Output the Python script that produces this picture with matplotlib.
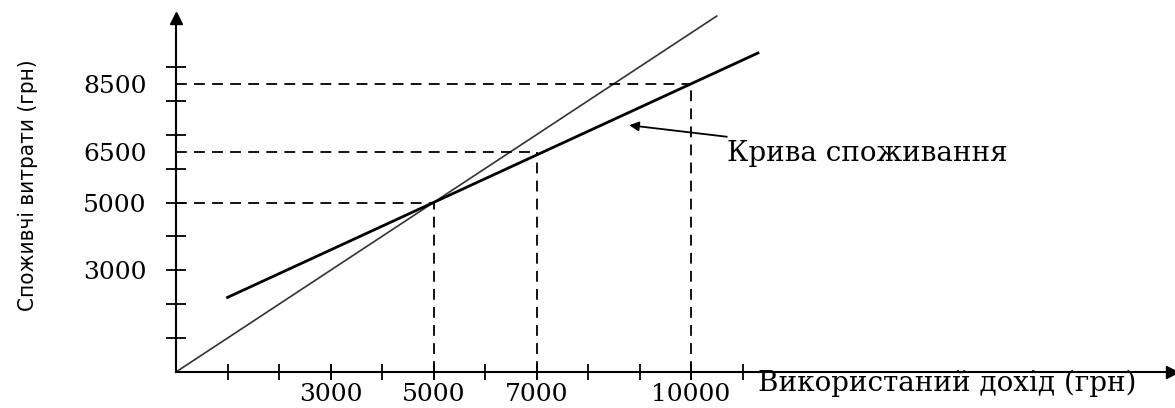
import matplotlib
matplotlib.use("Agg")
from matplotlib import pyplot as plt
from matplotlib.ticker import FixedLocator

# доход и потребление (грн)
income_points = [5000, 7000, 10000]
spending_points = [5000, 6500, 8500]

# крива споживання
curve_x = [1000, 5000, 10000, 11300]
curve_y = [2200, 5000, 8500, 9410]

# лінія 45 градусів
diag_x = [0, 10500]
diag_y = [0, 10500]

x_ticks = list(range(1000, 12000, 1000))
x_labels = [3000, 5000, 7000, 10000]
y_ticks = list(range(1000, 10000, 1000))
y_labels = [3000, 5000, 6500, 8500]

serif = ["DejaVu Serif"]

fig = plt.figure(figsize=(11.75, 4.08), dpi=100)
W, H = 1175, 408
ox, oy = 176, 372          # початок координат, px
px_x, px_y = 51.5, 33.9    # px на 1000 грн
right, top = 1172, 18
ax = fig.add_axes([ox / W, (H - oy) / H, (right - ox) / W, (oy - top) / H])
ax.set_xlim(0, (right - ox) / px_x * 1000)
ax.set_ylim(0, (oy - top) / px_y * 1000)

for s in ["top", "right"]:
    ax.spines[s].set_visible(False)
for s in ["left", "bottom"]:
    ax.spines[s].set_linewidth(1.5)
ax.plot(1, 0, ">k", ms=9, transform=ax.get_yaxis_transform(), clip_on=False)
ax.plot(0, 1, "^k", ms=9, transform=ax.get_xaxis_transform(), clip_on=False)

ax.xaxis.remove_overlapping_locs = False
ax.yaxis.remove_overlapping_locs = False
ax.xaxis.set_major_locator(FixedLocator(x_labels))
ax.xaxis.set_minor_locator(FixedLocator(x_ticks))
ax.set_xticklabels([str(v) for v in x_labels], family=serif, fontsize=18)
ax.yaxis.set_major_locator(FixedLocator(y_labels))
ax.yaxis.set_minor_locator(FixedLocator(y_ticks))
ax.set_yticklabels([str(v) for v in y_labels], family=serif, fontsize=18)
ax.tick_params(axis="x", which="both", direction="inout", length=12, width=1.3, pad=2)
ax.tick_params(axis="y", which="minor", direction="inout", length=14, width=1.3)
ax.tick_params(axis="y", which="major", length=0, pad=21)

ax.plot(diag_x, diag_y, color="#333333", lw=1.2, clip_on=False)
ax.plot(curve_x, curve_y, color="black", lw=2, clip_on=False)

for xi, yi in zip(income_points, spending_points):
    ax.plot([0, xi], [yi, yi], color="black", lw=1.3, ls=(0, (6, 4)))
    ax.plot([xi, xi], [0, yi], color="black", lw=1.3, ls=(0, (6, 4)))

ax.annotate("Крива споживання", xy=(8800, 7280), xytext=(10700, 6450),
            fontsize=20, family=serif, va="center", ha="left",
            arrowprops=dict(arrowstyle="-|>", color="black", lw=1.3,
                            shrinkA=2, shrinkB=0, mutation_scale=14))

ax.text(11300, -330, "Використаний дохід (грн)", fontsize=20, family=serif,
        va="center", ha="left")
fig.text(28 / W, (H - 185) / H, "Споживчі витрати (грн)", rotation=90,
         fontsize=16, family="DejaVu Sans", fontstretch="condensed",
         va="center", ha="center")

fig.savefig("out.png", dpi=100)
